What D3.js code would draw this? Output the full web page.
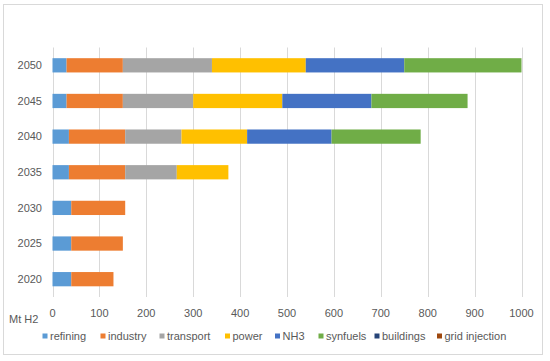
<!DOCTYPE html>
<html><head><meta charset="utf-8">
<script src="https://cdn.jsdelivr.net/npm/d3@7"></script>
<style>body{margin:0;background:#fff}svg{display:block}text{font-family:"Liberation Sans",Arial,sans-serif;fill:#595959}</style>
</head><body><svg id="c" width="550" height="361"></svg>
<script>
const years = ["2050","2045","2040","2035","2030","2025","2020"];
const seriesNames = ["refining","industry","transport","power","NH3","synfuels","buildings","grid injection"];
const refining   = [30, 30, 35, 35, 40, 40, 40];
const industry   = [120,120,120,120,115,110, 90];
const transport  = [190,150,120,110,  0,  0,  0];
const power      = [200,190,140,110,  0,  0,  0];
const nh3        = [210,190,180,  0,  0,  0,  0];
const synfuels   = [250,205,190,  0,  0,  0,  0];
const buildings  = [0,0,0,0,0,0,0];
const gridInj    = [0,0,0,0,0,0,0];
const xTicks = [0,100,200,300,400,500,600,700,800,900,1000];
const colors = ["#5B9BD5","#ED7D31","#A5A5A5","#FFC000","#4472C4","#70AD47","#264478","#9E480E"];

const seriesVals = [refining,industry,transport,power,nh3,synfuels,buildings,gridInj];
const table = years.map((y,i)=>{const o={year:y};seriesNames.forEach((s,j)=>o[s]=seriesVals[j][i]);return o;});
const stack = d3.stack().keys(seriesNames)(table);

const svg = d3.select("#c");
svg.append("rect").attr("x",3.5).attr("y",4.5).attr("width",539).attr("height",350)
  .attr("fill","#fff").attr("stroke","#d9d9d9");

const x = d3.scaleLinear().domain([0,1000]).range([52.5,521.5]);
const y = d3.scaleBand().domain(years).range([47.5,297]).paddingInner(0.6).paddingOuter(0.3);

svg.append("g").selectAll("line").data(xTicks).join("line")
  .attr("x1",d=>Math.round(x(d))+0.5).attr("x2",d=>Math.round(x(d))+0.5)
  .attr("y1",47.5).attr("y2",297).attr("stroke","#d9d9d9").attr("stroke-width",1);

svg.append("g").selectAll("g").data(stack).join("g").attr("fill",(d,i)=>colors[i])
  .selectAll("rect").data(d=>d).join("rect")
  .attr("x",d=>x(d[0])).attr("width",d=>x(d[1])-x(d[0]))
  .attr("y",d=>y(d.data.year)).attr("height",y.bandwidth());

svg.append("g").selectAll("text").data(years).join("text")
  .attr("x",42).attr("y",d=>y(d)+y.bandwidth()/2).attr("dy","0.35em")
  .attr("text-anchor","end").attr("font-size",11).text(d=>d);

svg.append("g").selectAll("text").data(xTicks).join("text")
  .attr("x",d=>x(d)).attr("y",313).attr("dy","0.35em")
  .attr("text-anchor","middle").attr("font-size",11).text(d=>d);

svg.append("text").attr("x",9).attr("y",319.5).attr("dy","0.35em").attr("font-size",11).text("Mt H2");

const legX = [42.5,100.5,159.5,225,275,318.5,374.5,437];
const lg = svg.append("g").selectAll("g").data(seriesNames).join("g")
  .attr("transform",(d,i)=>`translate(${legX[i]},336)`);
lg.append("rect").attr("x",0).attr("y",-2.5).attr("width",5).attr("height",5).attr("fill",(d,i)=>colors[i]);
lg.append("text").attr("x",7.5).attr("y",0).attr("dy","0.35em").attr("font-size",11).text(d=>d);
</script></body></html>
